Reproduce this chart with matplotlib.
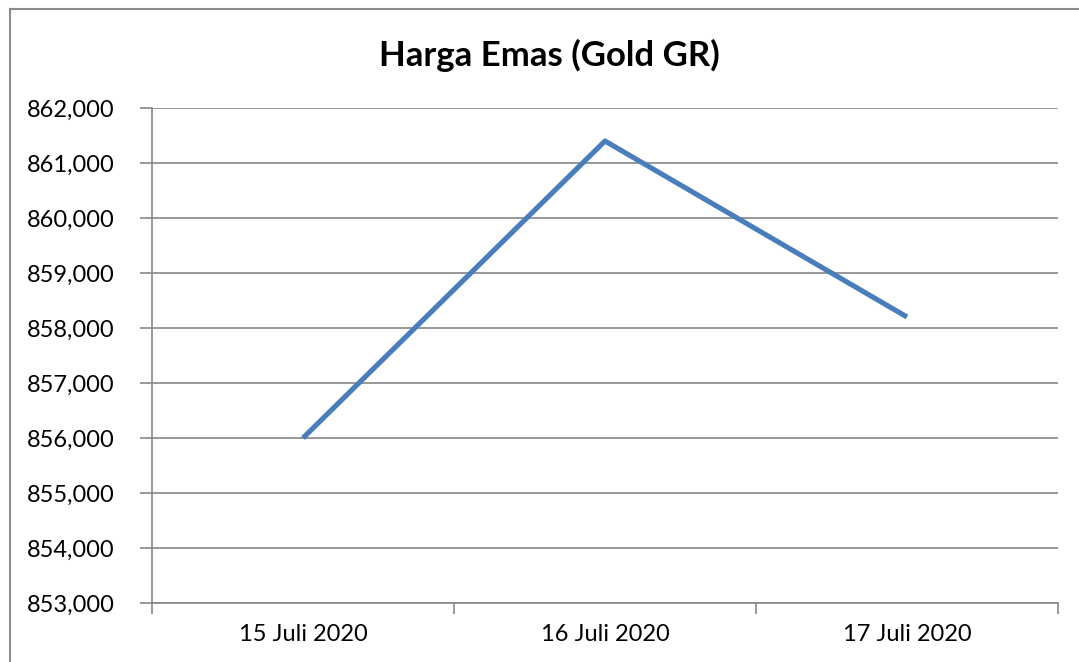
import matplotlib
matplotlib.use("Agg")
import matplotlib.pyplot as plt
from matplotlib.lines import Line2D
from matplotlib.ticker import FuncFormatter, FixedLocator

# data
tanggal = ['15 Juli 2020', '16 Juli 2020', '17 Juli 2020']
harga = [856000, 861400, 858200]
y_ticks = list(range(853000, 863000, 1000))

plt.rcParams['font.family'] = ['Lato', 'DejaVu Sans']

fig = plt.figure(figsize=(10.79, 6.62), dpi=100, facecolor='white')
ax = fig.add_axes([152/1079, 1 - 603/662, (1058-152)/1079, (603-108)/662])

x = [0.5, 1.5, 2.5]
ax.plot(x, harga, color='#4a7ebb', lw=3.7, solid_capstyle='butt', zorder=3)

ax.set_xlim(0, 3)
ax.set_ylim(853000, 862000)
ax.yaxis.set_major_locator(FixedLocator(y_ticks))
ax.yaxis.set_major_formatter(FuncFormatter(lambda v, p: f'{int(v):,}'))
ax.grid(axis='y', color='#868686', lw=1.2)
ax.set_axisbelow(True)

# category axis: ticks at boundaries, labels centred
ax.set_xticks([0, 1, 2, 3])
ax.set_xticklabels([])
ax.set_xticks(x, minor=True)
ax.set_xticklabels(tanggal, minor=True)
ax.tick_params(axis='x', which='minor', length=0, pad=15, labelsize=17)
ax.tick_params(axis='x', which='major', length=8, width=1.2, color='#868686')
ax.tick_params(axis='y', length=9, width=1.2, color='#868686', labelsize=17, pad=18)

for s in ['top', 'right']:
    ax.spines[s].set_visible(False)
for s in ['left', 'bottom']:
    ax.spines[s].set_color('#868686')
    ax.spines[s].set_linewidth(1.2)

fig.text(549/1079, 1 - 55/662, 'Harga Emas (Gold GR)', fontsize=25, fontweight='bold',
         ha='center', va='center')

# chart area border (top and left visible)
fig.add_artist(Line2D([9.5/1079, 9.5/1079], [0, 1 - 8.5/662], color='#8c8c8c', lw=1.5, transform=fig.transFigure))
fig.add_artist(Line2D([9.5/1079, 1], [1 - 8.5/662, 1 - 8.5/662], color='#8c8c8c', lw=1.5, transform=fig.transFigure))

fig.savefig('out.png', dpi=100, facecolor='white')
